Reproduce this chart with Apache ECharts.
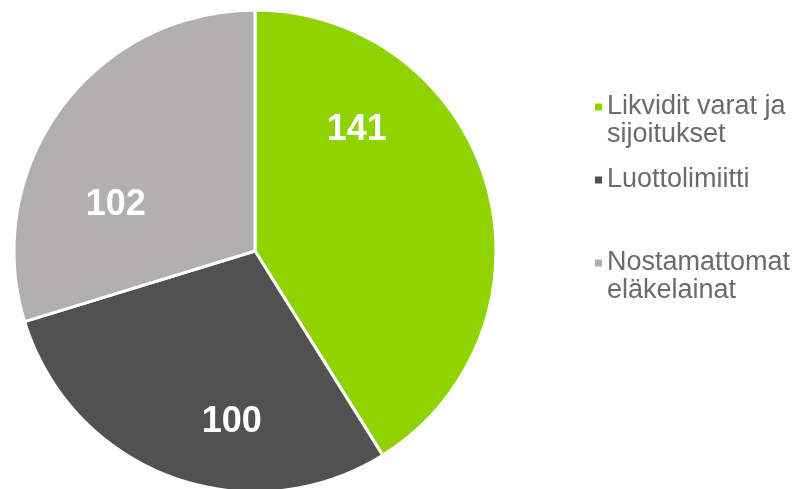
<!DOCTYPE html>
<html><head><meta charset="utf-8">
<script src="https://cdn.jsdelivr.net/npm/echarts@6/dist/echarts.min.js"></script>
<style>html,body{margin:0;padding:0;background:#fff}#c{width:794px;height:489px}</style>
</head><body><div id="c"></div>
<script>
const categories = ['Likvidit varat ja\nsijoitukset', 'Luottolimiitti', 'Nostamattomat\neläkelainat'];
const values = [141, 100, 102];
const colors = ['#8FD400', '#515151', '#B1B0AF'];
const labelOffsets = [[-17, -87], [20, 55], [-40, 27]];
const legendTops = [65, 166, 221];

const chart = echarts.init(document.getElementById('c'), null, {renderer: 'canvas'});
const data = categories.map((c, i) => ({
  name: c, value: values[i],
  itemStyle: {color: colors[i]},
  label: {offset: labelOffsets[i]}
}));
const legends = categories.map((c, i) => ({
  orient: 'vertical', left: 595, top: legendTops[i],
  data: [{name: c, icon: 'rect'}],
  itemWidth: 7, itemHeight: 7, itemGap: 0, padding: 0,
  textStyle: {
    fontFamily: 'Liberation Sans, Arial, sans-serif', fontSize: 27, color: '#6b6b6b', lineHeight: 28
  },
  itemStyle: {borderWidth: 0},
  selectedMode: false,
  formatter: n => n.indexOf('\n') >= 0 ? ' \n' + n : n
}));
chart.setOption({
  animation: false,
  legend: legends,
  series: [{
    type: 'pie', center: [255, 251], radius: [0, 241],
    startAngle: 90, clockwise: true,
    itemStyle: {borderColor: '#fff', borderWidth: 3},
    label: {show: true, position: 'inside', formatter: '{c}', color: '#fff',
      fontFamily: 'Liberation Sans, Arial, sans-serif', fontWeight: 'bold', fontSize: 36},
    labelLine: {show: false},
    emphasis: {disabled: true},
    data: data
  }]
});
</script></body></html>
